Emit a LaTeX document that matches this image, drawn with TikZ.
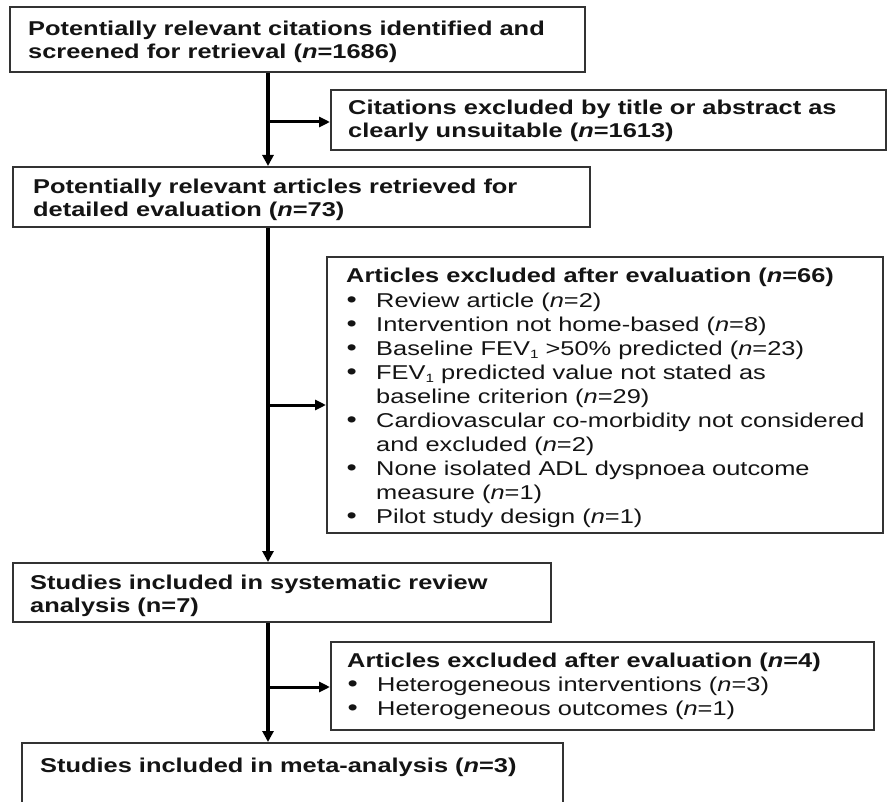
\documentclass[tikz,border=0pt]{standalone}
\usepackage{fontspec}
\setmainfont{Liberation Sans}[FakeStretch=1.27]
\usetikzlibrary{arrows.meta,fit}

\newcommand\bul{\makebox[30pt][l]{\hspace{0.5pt}\scalebox{1.15}{\textbullet}}}
\newcommand\ind{\hspace*{30pt}}
\newcommand\nn{\textit{n}}
\newcommand\sub[1]{\raisebox{-3pt}{\fontsize{12}{12}\selectfont #1}}

\tikzset{
  box/.style={draw=black!80, line width=2pt, inner sep=0pt, fill=white},
  txt/.style={inner sep=0pt, anchor=north west, align=left, text=black!92},
  head/.style={txt, font=\fontsize{20}{23.5}\selectfont\bfseries},
  list/.style={txt, font=\fontsize{20}{24}\selectfont},
  spine/.style={line width=3.4pt, black, -{Triangle[length=11pt,width=11pt]}},
  branch/.style={line width=3pt, black, -{Triangle[length=11pt,width=10pt]}},
}

\begin{document}
\begin{tikzpicture}[x=1pt,y=-1pt]
\useasboundingbox (0,0) rectangle (889,802);
\clip (0,0) rectangle (889,802);
\fill[white] (0,0) rectangle (889,802);

% box corners
\coordinate (b1a) at (10,7);    \coordinate (b1b) at (585,72);
\coordinate (b2a) at (331,90);  \coordinate (b2b) at (886,150);
\coordinate (b3a) at (13,167);  \coordinate (b3b) at (590,227);
\coordinate (b4a) at (327,257); \coordinate (b4b) at (883,533);
\coordinate (b5a) at (13,563);  \coordinate (b5b) at (551,622);
\coordinate (b6a) at (331,642); \coordinate (b6b) at (874,730);
\coordinate (b7a) at (22,743);  \coordinate (b7b) at (563,830);

\node[box, fit=(b1a)(b1b)] (b1) {};
\node[box, fit=(b2a)(b2b)] (b2) {};
\node[box, fit=(b3a)(b3b)] (b3) {};
\node[box, fit=(b4a)(b4b)] (b4) {};
\node[box, fit=(b5a)(b5b)] (b5) {};
\node[box, fit=(b6a)(b6b)] (b6) {};
\node[box, fit=(b7a)(b7b)] (b7) {};

% texts
\node[head] (t1) at (28,20.5) {Potentially relevant citations identified and\\screened for retrieval (\nn=1686)};
\node[head] (t2) at (348,99.5) {Citations excluded by title or abstract as\\clearly unsuitable (\nn=1613)};
\node[head] (t3) at (33,178.5) {Potentially relevant articles retrieved for\\detailed evaluation (\nn=73)};
\node[head] (t4) at (346,267.5) {Articles excluded after evaluation (\nn=66)};
\node[list] (t4l) at (346,293) {%
\bul Review article (\nn=2)\\
\bul Intervention not home-based (\nn=8)\\
\bul Baseline FEV\sub{1} {>}50\% predicted (\nn=23)\\
\bul FEV\sub{1} predicted value not stated as\\
\ind baseline criterion (\nn=29)\\
\bul Cardiovascular co-morbidity not considered\\
\ind and excluded (\nn=2)\\
\bul None isolated ADL dyspnoea outcome\\
\ind measure (\nn=1)\\
\bul Pilot study design (\nn=1)};
\node[head] (t5) at (30,574.5) {Studies included in systematic review\\analysis (n=7)};
\node[head] (t6) at (347,652.5) {Articles excluded after evaluation (\nn=4)};
\node[list] (t6l) at (347,677) {%
\bul Heterogeneous interventions (\nn=3)\\
\bul Heterogeneous outcomes (\nn=1)};
\node[head] (t7) at (40,757.5) {Studies included in meta-analysis (\nn=3)};

% connectors
\coordinate (sp) at (268,0);
\draw[spine] (b1.south -| sp) -- (b3.north -| sp);
\draw[spine] (b3.south -| sp) -- (b5.north -| sp);
\draw[spine] (b5.south -| sp) -- (b7.north -| sp);
\coordinate (j2) at (268,122);
\coordinate (j4) at (268,405);
\coordinate (j6) at (268,687);
\draw[branch] (j2) -- (j2 -| b2.west);
\draw[branch] (j4) -- (j4 -| b4.west);
\draw[branch] (j6) -- (j6 -| b6.west);
\end{tikzpicture}
\end{document}
